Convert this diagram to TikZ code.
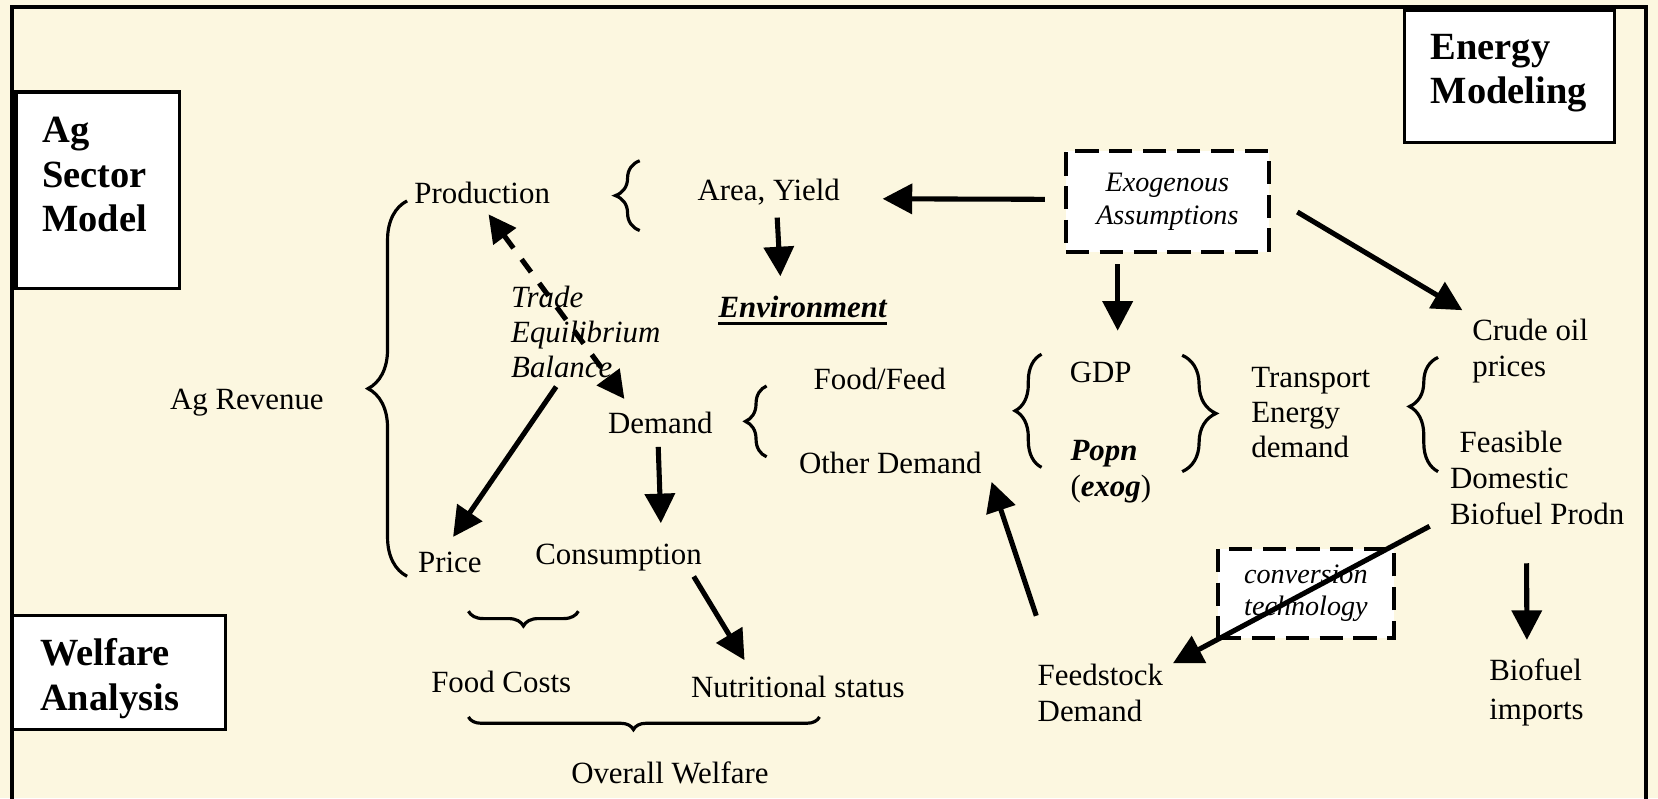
\documentclass[tikz,border=0pt]{standalone}
\usepackage{fontspec}
\setmainfont{Liberation Serif}
\usepackage{tikz}
\usetikzlibrary{arrows.meta,decorations.pathreplacing,positioning}
\usepackage{xcolor}
\definecolor{bgcream}{RGB}{252,247,224}
\tikzstyle{arrow} = [line width=2.4pt,-{Triangle[length=14pt,width=14pt]}]
\tikzstyle{dasharrow} = [line width=2.4pt,{Triangle[length=13pt,width=13pt]}-{Triangle[length=13pt,width=13pt]},dash pattern=on 7.5pt off 6.5pt]
\tikzstyle{titlebox} = [rectangle, draw, fill=white, line width=1.6pt, inner xsep=12.5pt, font=\fontsize{18.2}{21}\selectfont\bfseries]
\tikzstyle{dashbox} = [rectangle, draw, fill=white, line width=1.9pt, dash pattern=on 11pt off 5pt, align=center, font=\fontsize{13.3}{15.5}\selectfont\itshape]
\tikzstyle{lbl} = [inner sep=0pt, font=\fontsize{14.6}{17}\selectfont]
\tikzstyle{grpbrace} = [decorate, line width=1.5pt]

\begin{document}
\begin{tikzpicture}[x=0.5pt, y=-0.5pt]
\useasboundingbox (0,0) rectangle (1568,755);
\fill[bgcream] (0,0) rectangle (1568,755);
\begin{scope}
\clip (0,0) rectangle (1568,755);
\draw[line width=1.9pt] (11,800) -- (11,6.5) -- (1557,6.5) -- (1557,800);
\end{scope}

% Model boxes
\node[titlebox, minimum width=77.5pt, minimum height=93pt, inner ysep=12pt] (agmodel) at (92.5,180) {\parbox[c][69pt][t]{52.5pt}{Ag\\Sector\\Model}};
\node[titlebox, minimum width=99.5pt, minimum height=62.5pt, inner ysep=11pt] (energymodel) at (1427.5,72.5) {\parbox[c][40.5pt][t]{74.5pt}{Energy\\Modeling}};
\node[titlebox, minimum width=100.5pt, minimum height=54pt, inner xsep=13pt, inner ysep=11pt] (welfaremodel) at (112.5,636) {\parbox[c][32pt][t]{74.5pt}{Welfare\\Analysis}};

% Dashed boxes
\node[dashbox, minimum width=96pt, minimum height=47.5pt] (exo) at (1104,190.5) {Exogenous\\Assumptions};
\node[dashbox, minimum width=83pt, minimum height=42pt] (conv) at (1235,561) {\raisebox{-2pt}{conversion}\\\raisebox{-2pt}{technology}};

% Ag sector side
\node[lbl] (prod) at (456,182) {Production};
\node[lbl] (area) at (727,182) {Area, Yield};
\node[lbl, font=\fontsize{14.6}{17}\selectfont\bfseries\itshape] (env) at (759,290) {Environment};
\node[lbl, align=left, anchor=west, font=\fontsize{14.6}{16.5}\selectfont\itshape] (trade) at (483,314) {Trade\\Equilibrium\\Balance};
\node[lbl] (revenue) at (233.5,381) {Ag Revenue};
\node[lbl] (demand) at (624.5,400) {Demand};
\node[lbl] (foodfeed) at (832,358) {Food/Feed};
\node[lbl] (other) at (842,438) {Other Demand};
\node[lbl] (consumption) at (585,527) {Consumption};
\node[lbl] (price) at (425.5,532) {Price};
\node[lbl] (foodcost) at (474,645) {Food Costs};
\node[lbl] (nutrition) at (754.5,650) {Nutritional status};
\node[lbl] (welfare) at (633.5,731) {Overall Welfare};

% Energy side
\node[lbl] (gdp) at (1041,352) {GDP};
\node[lbl, align=left, anchor=west] (popn) at (1012,446) {\textbf{\textit{Popn}}\\(\textbf{\textit{exog}})};
\node[lbl, align=left, anchor=west, font=\fontsize{14.6}{16.5}\selectfont] (transport) at (1183,390) {Transport\\Energy\\demand};
\node[lbl, align=left, anchor=west] (crude) at (1392,332) {Crude oil\\prices};
\node[lbl, align=left, anchor=west] (feasible) at (1371,452) {\hspace*{4.5pt}Feasible\\Domestic\\Biofuel Prodn};
\node[lbl, align=left, anchor=west] (feedstock) at (981,655) {Feedstock\\Demand};
\node[lbl, align=left, anchor=west, font=\fontsize{14.6}{18.5}\selectfont] (imports) at (1408,654.5) {Biofuel\\imports};

% Underline
\draw[line width=1.6pt] ([yshift=-2.5pt]env.south west) -- ([yshift=-2.5pt]env.south east);

% Braces
\draw[grpbrace, decoration={brace, amplitude=18.5pt}] (385,545) -- (385,190);
\draw[grpbrace, decoration={brace, amplitude=11.5pt}] (605,218) -- (605,152);
\draw[grpbrace, decoration={brace, amplitude=10pt}] (725,432) -- (725,365);
\draw[grpbrace, decoration={brace, amplitude=12.5pt}] (985,442) -- (985,335);
\draw[grpbrace, decoration={brace, amplitude=16pt}] (1118,336) -- (1118,446);
\draw[grpbrace, decoration={brace, amplitude=13.5pt, aspect=0.57}] (1360,446) -- (1360,338);
\draw[grpbrace, decoration={brace, amplitude=7pt}] (547,578) -- (443,578);
\draw[grpbrace, decoration={brace, amplitude=6pt, aspect=0.53}] (775,678) -- (443,678);

% Arrows
\draw[arrow] ([xshift=-9pt,yshift=1pt]exo.west) -- ([xshift=20pt,yshift=-3pt]area.east);
\draw[arrow] ([xshift=4pt,yshift=-5.5pt]area.south) -- ([xshift=-10.5pt,yshift=9pt]env.north);
\draw[arrow] ([xshift=-23.5pt,yshift=-5pt]exo.south) -- ([xshift=8pt,yshift=14.5pt]gdp.north);
\draw[arrow] ([xshift=12.5pt,yshift=-5pt]exo.east) -- ([xshift=-4.5pt,yshift=4pt]crude.north west);
\draw[dasharrow] ([xshift=3pt,yshift=-5pt]prod.south) -- ([xshift=-17pt,yshift=6pt]demand.north);
\draw[arrow] ([xshift=-14pt,yshift=-4pt]trade.south) -- ([xshift=1.5pt,yshift=7pt]price.north);
\draw[arrow] ([xshift=-1pt,yshift=-6pt]demand.south) -- ([xshift=20pt,yshift=9.5pt]consumption.north);
\draw[arrow] ([xshift=-4pt,yshift=-2.5pt]consumption.south east) -- ([xshift=25.5pt,yshift=7.5pt]nutrition.north west);
\draw[arrow] ([xshift=-0.5pt,yshift=22.5pt]feedstock.north west) -- ([xshift=4.5pt,yshift=-3.5pt]other.south east);
\draw[arrow] ([xshift=-9.5pt,yshift=-0.5pt]feasible.south west) -- ([xshift=4.5pt]feedstock.north east);
\draw[arrow] ([xshift=-5pt,yshift=-18pt]feasible.south) -- ([xshift=-4.5pt,yshift=8.5pt]imports.north);
\end{tikzpicture}
\end{document}
